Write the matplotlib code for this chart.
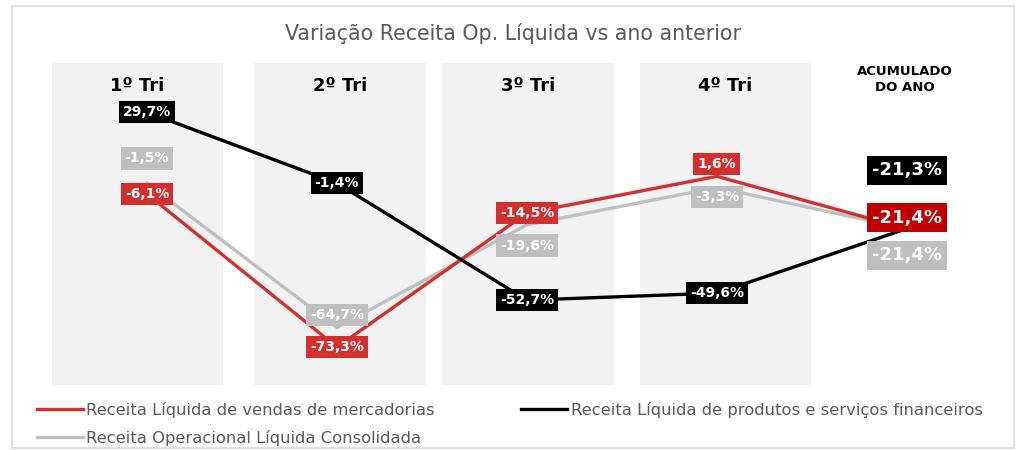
import matplotlib.pyplot as plt
from matplotlib.patches import Rectangle
from matplotlib.transforms import blended_transform_factory

categories = ['1º Tri', '2º Tri', '3º Tri', '4º Tri', 'ACUMULADO\nDO ANO']
vendas = [-6.1, -73.3, -14.5, 1.6, -21.4]
financeiros = [29.7, -1.4, -52.7, -49.6, -21.3]
consolidada = [-1.5, -64.7, -19.6, -3.3, -21.4]

# label nudges in points (labels were moved by hand in the original)
off_vendas = [0, 0, 0, 9, 8]
off_fin = [0, 0, 0, 0, 42]
off_cons = [18, 9, -15, -7, -19]

# grey column backgrounds are not evenly spaced in the original
panel_shift = [-0.05, 0.015, 0.005, 0.045]

RED = '#d32f2f'
DARKRED = '#c00000'
GRAY = '#bfbfbf'
TXT = '#595959'

fig = plt.figure(figsize=(10.26, 4.5), dpi=100)
fig.patches.append(Rectangle((12 / 1026, 2 / 450), 1002 / 1026, 442 / 450,
                             transform=fig.transFigure, fill=False,
                             edgecolor='#d9d9d9', linewidth=1.2))

ax = fig.add_axes([40 / 1026, 1 - 385 / 450, 950 / 1026, 322 / 450])
ax.set_xlim(-0.563, 4.437)
ax.set_ylim(-89.9, 51.3)
ax.axis('off')

x = list(range(len(categories)))
for i in x[:4]:
    c = i + panel_shift[i]
    ax.axvspan(c - 0.452, c + 0.452, color='#f2f2f2', zorder=0, lw=0)

ax.plot(x, vendas, color=RED, lw=2.4, zorder=2, label='Receita Líquida de vendas de mercadorias')
ax.plot(x, consolidada, color=GRAY, lw=2.4, zorder=1, label='Receita Operacional Líquida Consolidada')
ax.plot(x, financeiros, color='black', lw=2.4, zorder=2, label='Receita Líquida de produtos e serviços financeiros')

def fmt(v):
    return f'{v:.1f}%'.replace('.', ',')

def put(vals, offs, color, z):
    for i, (v, o) in enumerate(zip(vals, offs)):
        last = i == len(vals) - 1
        fc = color
        if last and color == RED:
            fc = DARKRED
        ax.annotate(fmt(v), (i, v), xytext=(0, o), textcoords='offset points',
                    ha='center', va='center', color='white', fontweight='bold',
                    fontsize=13 if last else 10, zorder=z,
                    bbox=dict(boxstyle='square,pad=0.3', fc=fc, ec='none'))

put(consolidada, off_cons, GRAY, 5)
put(vendas, off_vendas, RED, 6)
put(financeiros, off_fin, 'black', 7)

tr = blended_transform_factory(ax.transData, ax.transAxes)
for i, c in enumerate(categories):
    if i < 4:
        ax.text(i + panel_shift[i], 0.93, c, transform=tr, ha='center', va='center',
                fontsize=13, fontweight='bold', color='black')
    else:
        ax.text(i - 0.01, 0.95, c, transform=tr, ha='center', va='center',
                fontsize=9.5, fontweight='bold', color='black', linespacing=1.3)

fig.text(0.5, 1 - 33 / 450, 'Variação Receita Op. Líquida vs ano anterior',
         ha='center', va='center', fontsize=14.8, color=TXT)

h, l = ax.get_legend_handles_labels()
leg = fig.legend(h, l, ncol=2, loc='upper left', bbox_to_anchor=(22 / 1026, 1 - 387 / 450),
                 frameon=False, fontsize=11.8, handlelength=2.8, handletextpad=0.2,
                 columnspacing=5.3, labelspacing=0.75)
for t in leg.get_texts():
    t.set_color(TXT)

fig.savefig('out.png', dpi=100)
